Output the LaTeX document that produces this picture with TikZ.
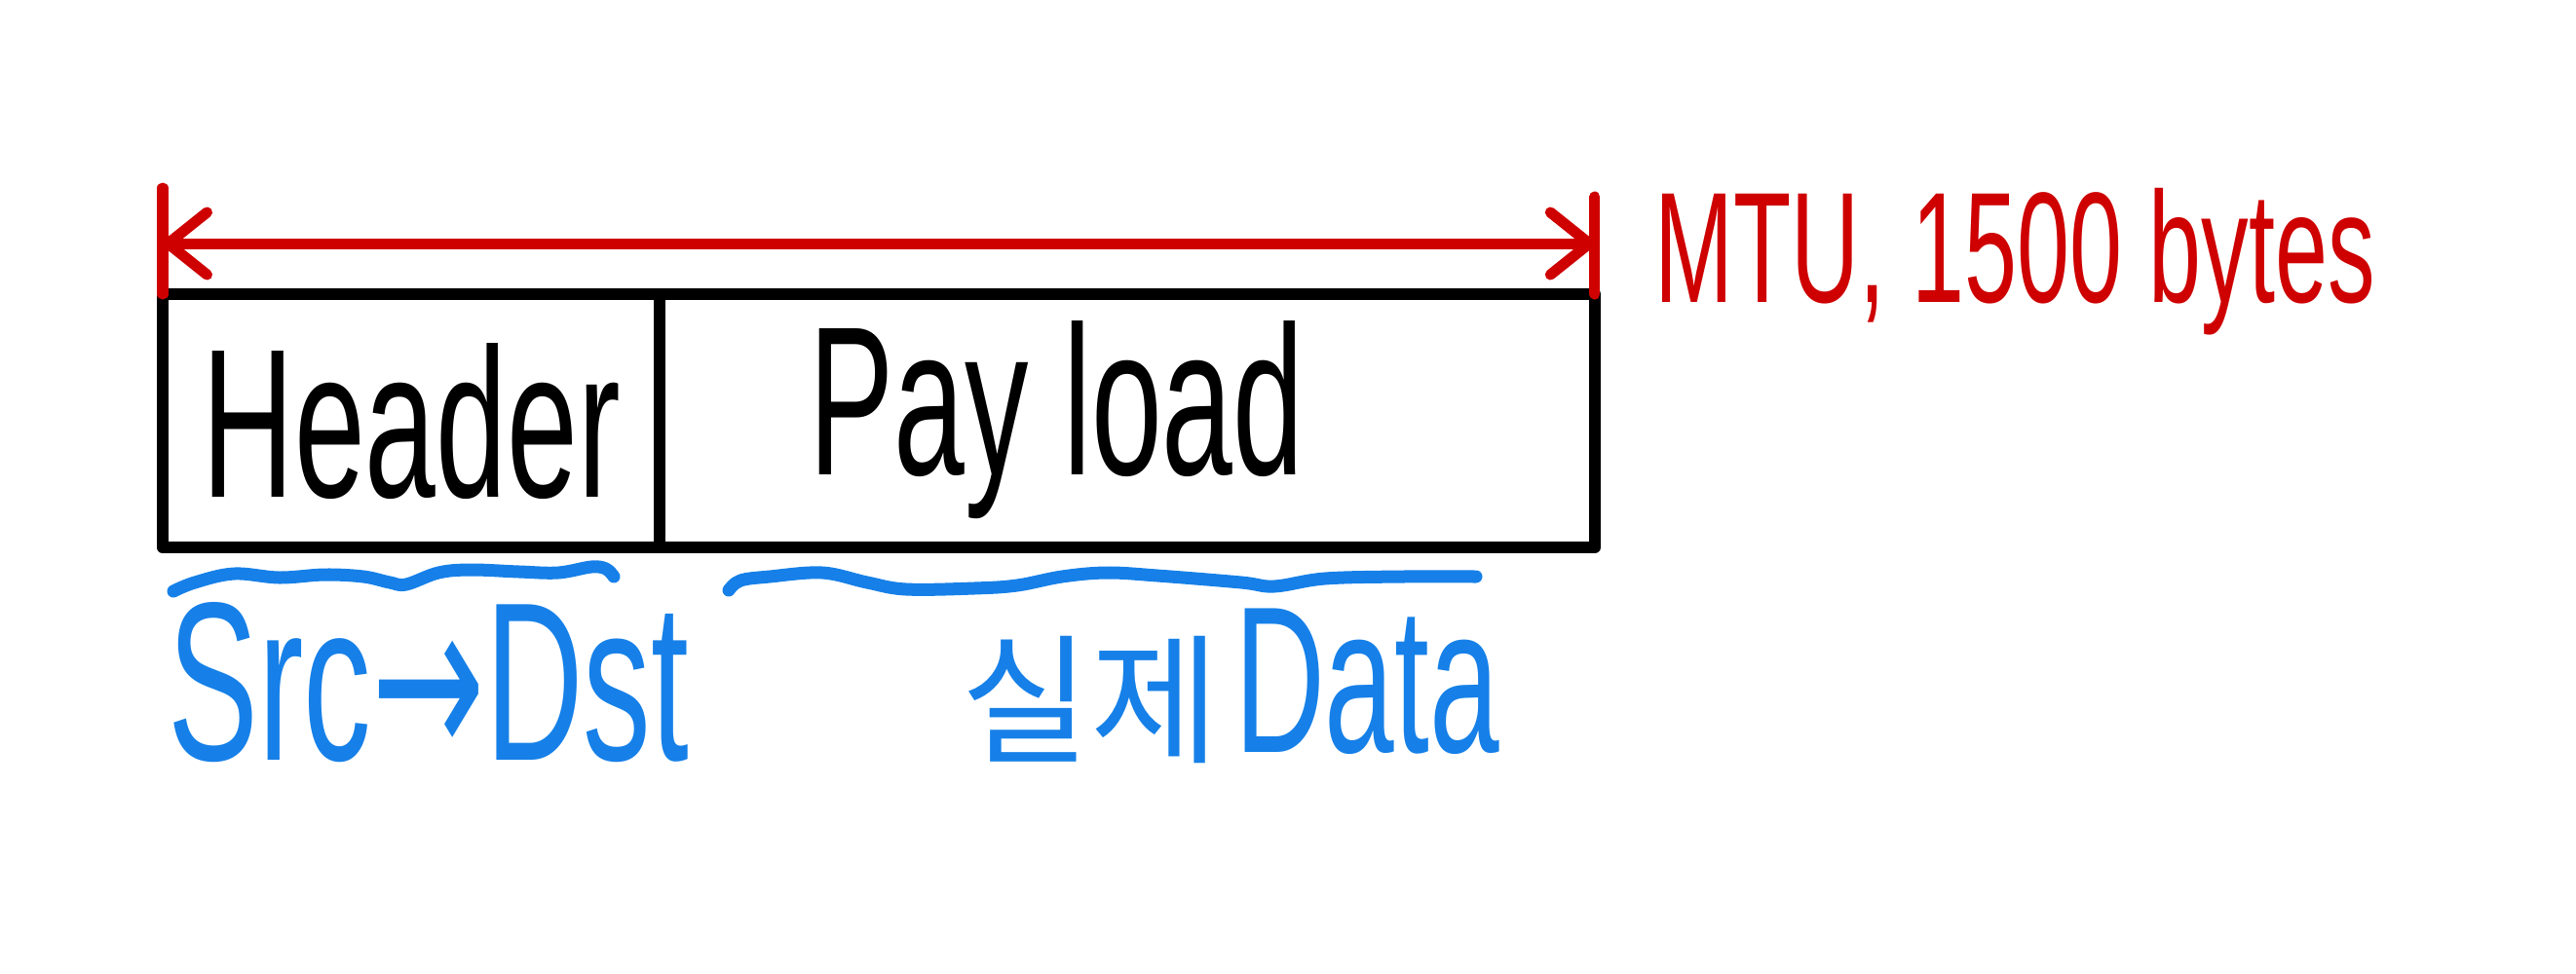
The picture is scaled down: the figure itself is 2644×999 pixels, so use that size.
\documentclass[tikz,border=0pt]{standalone}
\usepackage{fontspec}
\newfontfamily\handfont{Liberation Sans}[FakeStretch=0.6]
\newfontfamily\arrowfont{DejaVu Sans}[FakeStretch=0.6]
\newfontfamily\hangulfont{Noto Sans CJK KR}
\usetikzlibrary{arrows.meta,calc}
\definecolor{MtuClr}{RGB}{206,0,0}
\definecolor{NoteClr}{RGB}{22,128,232}

\tikzset{
  cell/.style={draw=black,line width=1.2mm,line join=round,inner sep=0pt,outer sep=0pt,minimum height=2.6cm},
  hand/.style={inner sep=0pt,font=\handfont\fontsize{#1}{#1}\selectfont},
  mtuline/.style={draw=MtuClr,line width=1.1mm,line cap=round},
  mtubarb/.tip={Straight Barb[round,length=4mm,width=6.4mm]},
  wave/.style={draw=NoteClr,line width=1.3mm,line cap=round,line join=round}
}

\begin{document}
\begin{tikzpicture}[x=0.01cm,y=-0.01cm]
\useasboundingbox (0,0) rectangle (2644,999);

% packet
\node[cell,minimum width=5.1cm,anchor=north west,hand=62pt] (header) at (167,302) {Header};
\node[cell,minimum width=9.59cm,anchor=north west] (payload) at (header.north east) {};
\node[hand=62pt,anchor=base west] (payloadtxt) at (830,487) {Pay\hspace{.35cm}load};

% MTU
\coordinate (mtuL) at ($(header.north west)+(0,-52)$);
\coordinate (mtuR) at ($(payload.north east)+(0,-52)$);
\draw[mtuline] (header.north west) -- ++(0,-109);
\draw[mtuline] (payload.north east) -- ++(0,-100);
\draw[mtuline,mtubarb-mtubarb] (mtuL) -- (mtuR);
\node[hand=46pt,text=MtuClr,anchor=base west] (mtu) at (1698,310) {MTU, 1500 bytes};

% notes
\draw[wave] plot[smooth,tension=.6] coordinates {(178,607) (200,598) (240,589) (287,593) (333,590) (373,592) (400,598) (417,600) (450,588) (483,585) (533,587) (573,588) (607,582) (622,584) (630,592)};
\draw[wave] plot[smooth,tension=.6] coordinates {(748,606) (760,596) (790,592) (844,588) (890,598) (930,605) (1000,604) (1044,601) (1090,592) (1136,588) (1188,591) (1274,598) (1308,602) (1360,594) (1440,592) (1515,592)};
\node[hand=66pt,text=NoteClr,anchor=base west] (srcdst) at (172,780) {Src{\arrowfont →}Dst};
\node[text=NoteClr,inner sep=0pt,anchor=base west] (realdata) at (986,772) {{\hangulfont\fontsize{41pt}{41pt}\selectfont 실제}\hspace{.15cm}{\handfont\fontsize{61pt}{61pt}\selectfont Data}};
\end{tikzpicture}
\end{document}
